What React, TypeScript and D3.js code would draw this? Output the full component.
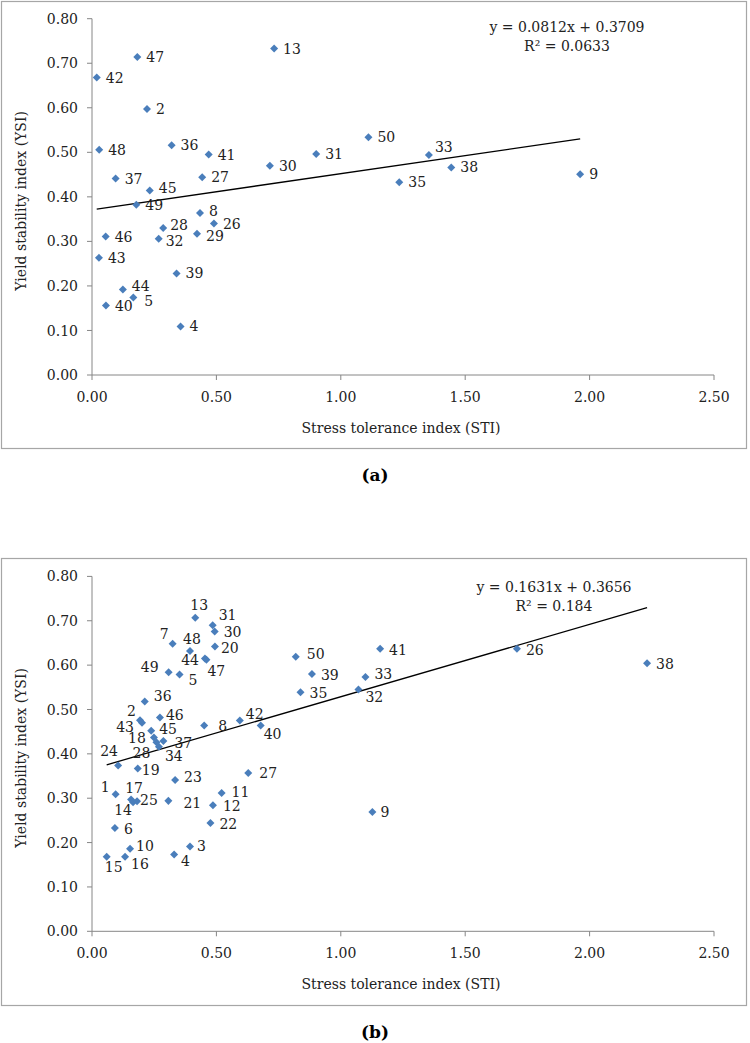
import React from 'react';
import * as d3 from 'd3';

// ---------- data ----------
const yTicks = [0, 0.1, 0.2, 0.3, 0.4, 0.5, 0.6, 0.7, 0.8];
const xTicks = [0, 0.5, 1.0, 1.5, 2.0, 2.5];

// Panel (a)
const idsA = [2, 4, 5, 8, 9, 13, 26, 27, 28, 29, 30, 31, 32, 33, 35, 36, 37, 38, 39, 40, 41, 42, 43, 44, 45, 46, 47, 48, 49, 50];
const stiA = [0.221, 0.356, 0.166, 0.434, 1.962, 0.732, 0.490, 0.443, 0.286, 0.422, 0.715, 0.901, 0.268, 1.354, 1.235, 0.320, 0.095, 1.444, 0.340, 0.056, 0.469, 0.019, 0.028, 0.124, 0.232, 0.055, 0.182, 0.029, 0.178, 1.111];
const ysiA = [0.597, 0.109, 0.174, 0.364, 0.451, 0.733, 0.340, 0.444, 0.330, 0.317, 0.470, 0.496, 0.306, 0.494, 0.433, 0.516, 0.441, 0.466, 0.228, 0.156, 0.495, 0.668, 0.263, 0.192, 0.414, 0.311, 0.714, 0.506, 0.382, 0.534];
const slopeA = 0.0812;
const interceptA = 0.3709;
const r2A = '0.0633';

// Panel (b)
const idsB = [1, 2, 3, 4, 5, 6, 7, 8, 9, 10, 11, 12, 13, 14, 15, 16, 17, 18, 19, 20, 21, 22, 23, 24, 25, 26, 27, 28, 30, 31, 32, 33, 34, 35, 36, 37, 38, 39, 40, 41, 42, 43, 44, 45, 46, 47, 48, 49, 50];
const stiB = [0.095, 0.193, 0.394, 0.330, 0.352, 0.092, 0.324, 0.451, 1.127, 0.153, 0.521, 0.486, 0.415, 0.165, 0.059, 0.133, 0.157, 0.249, 0.184, 0.494, 0.307, 0.476, 0.334, 0.105, 0.181, 1.708, 0.628, 0.259, 0.493, 0.485, 1.071, 1.099, 0.269, 0.838, 0.212, 0.287, 2.231, 0.884, 0.678, 1.158, 0.594, 0.201, 0.454, 0.238, 0.273, 0.460, 0.394, 0.308, 0.819];
const ysiB = [0.309, 0.476, 0.191, 0.173, 0.579, 0.233, 0.648, 0.464, 0.269, 0.186, 0.312, 0.284, 0.707, 0.291, 0.168, 0.168, 0.297, 0.437, 0.367, 0.642, 0.294, 0.244, 0.341, 0.374, 0.293, 0.637, 0.357, 0.426, 0.676, 0.690, 0.545, 0.573, 0.416, 0.539, 0.518, 0.429, 0.604, 0.580, 0.464, 0.637, 0.475, 0.470, 0.615, 0.452, 0.482, 0.612, 0.632, 0.584, 0.619];
const slopeB = 0.1631;
const interceptB = 0.3656;
const r2B = '0.184';

// ---------- label placement (layout only) ----------
type Place = [number, number, 'start' | 'middle' | 'end'];
const placeA: Record<number, Place> = {
  33: [6, -8, 'start'], 44: [9, -4, 'start'], 28: [7, -3, 'start'], 45: [9, -3, 'start'],
  8: [9, -2, 'start'], 29: [9, 2, 'start'], 32: [7, 2, 'start'], 5: [11, 3, 'start'],
};
const placeB: Record<number, Place> = {
  13: [4, -13, 'middle'], 31: [6, -10, 'start'], 30: [9, 1, 'start'], 7: [-4, -10, 'end'],
  48: [2, -12, 'middle'], 20: [6, 1, 'start'], 44: [-6, 1, 'end'], 47: [1, 11, 'start'],
  49: [-10, -5, 'end'], 5: [9, 6, 'start'], 36: [9, -6, 'start'], 2: [-4, -9, 'end'],
  43: [-8, 4, 'end'], 46: [6, -3, 'start'], 45: [8, -2, 'start'], 18: [-8, 1, 'end'],
  37: [11, 2, 'start'], 28: [-6, 11, 'end'], 34: [6, 9, 'start'], 8: [14, 1, 'start'],
  42: [6, -7, 'start'], 40: [3, 9, 'start'], 24: [-9, -14, 'middle'], 19: [4, 1, 'start'],
  23: [9, -3, 'start'], 27: [11, 0, 'start'], 1: [-6, -7, 'end'], 17: [3, -12, 'middle'],
  14: [-10, 8, 'middle'], 25: [3, -1, 'start'], 21: [15, 2, 'start'], 11: [10, -1, 'start'],
  12: [10, 1, 'start'], 22: [9, 1, 'start'], 6: [9, 1, 'start'], 10: [6, -3, 'start'],
  3: [7, -1, 'start'], 4: [7, 6, 'start'], 15: [7, 10, 'middle'], 16: [6, 7, 'start'],
  50: [11, -3, 'start'], 39: [9, 1, 'start'], 35: [9, 1, 'start'], 41: [9, 1, 'start'],
  33: [9, -3, 'start'], 32: [7, 7, 'start'], 26: [9, 1, 'start'], 38: [9, 1, 'start'], 9: [8, 0, 'start'],
};

const FONT = '"DejaVu Serif", serif';
const AXIS = '#868686';
const BLUE = '#4A7EBB';

type PanelProps = {
  top: number;
  ids: number[];
  xs: number[];
  ys: number[];
  slope: number;
  intercept: number;
  r2: string;
  eqX: number;
  eqY: number;
  place: Record<number, Place>;
  caption: string;
  plotTop: number;
  plotBottom: number;
};

function Panel({ top, ids, xs, ys, slope, intercept, r2, eqX, eqY, place, caption, plotTop, plotBottom }: PanelProps) {
  const x = d3.scaleLinear().domain([0, 2.5]).range([92, 714]);
  const y = d3.scaleLinear().domain([0, 0.8]).range([plotBottom, plotTop]);
  const fmt = d3.format('.2f');
  const diamond = d3.symbol().type(d3.symbolSquare).size(32)() as string;
  const xMin = d3.min(xs) as number;
  const xMax = d3.max(xs) as number;
  const trend = d3.line<number>().x((d) => x(d)).y((d) => y(slope * d + intercept))([xMin, xMax]) as string;
  const pts = ids.map((id, i) => ({ id, sx: x(xs[i]), sy: y(ys[i]) }));
  const mid = (plotTop + plotBottom) / 2;

  return (
    <g transform={`translate(0,${top})`}>
      <rect x={1.5} y={1.5} width={745} height={447} fill="#fff" stroke="#a6a6a6" strokeWidth={1.2} />
      {/* axes */}
      <line x1={92} x2={92} y1={plotTop} y2={plotBottom} stroke={AXIS} strokeWidth={1} />
      <line x1={92} x2={714} y1={plotBottom} y2={plotBottom} stroke={AXIS} strokeWidth={1} />
      {yTicks.map((t) => (
        <g key={'y' + t}>
          <line x1={87} x2={92} y1={y(t)} y2={y(t)} stroke={AXIS} />
          <text x={78} y={y(t)} dy="0.36em" textAnchor="end" fontFamily={FONT} fontSize={14} fill="#222">
            {fmt(t)}
          </text>
        </g>
      ))}
      {xTicks.map((t) => (
        <g key={'x' + t}>
          <line x1={x(t)} x2={x(t)} y1={plotBottom} y2={plotBottom + 5} stroke={AXIS} />
          <text x={x(t)} y={plotBottom + 22} dy="0.36em" textAnchor="middle" fontFamily={FONT} fontSize={14} fill="#222">
            {fmt(t)}
          </text>
        </g>
      ))}
      <text x={401} y={plotBottom + 53} dy="0.36em" textAnchor="middle" fontFamily={FONT} fontSize={14} fill="#222">
        Stress tolerance index (STI)
      </text>
      <text
        transform={`translate(21,${mid + 4}) rotate(-90)`}
        dy="0.36em"
        textAnchor="middle"
        fontFamily={FONT}
        fontSize={14}
        fill="#222"
      >
        Yield stability index (YSI)
      </text>
      {/* trendline */}
      <path d={trend} fill="none" stroke="#000" strokeWidth={1.3} />
      {/* points */}
      {pts.map((p) => (
        <path key={'p' + p.id} d={diamond} transform={`translate(${p.sx},${p.sy}) rotate(45)`} fill={BLUE} />
      ))}
      {pts.map((p) => {
        const pl = place[p.id] || [9, 0, 'start'];
        return (
          <text
            key={'l' + p.id}
            x={p.sx + pl[0]}
            y={p.sy + pl[1]}
            dy="0.36em"
            textAnchor={pl[2]}
            fontFamily={FONT}
            fontSize={14}
            fill="#222"
          >
            {p.id}
          </text>
        );
      })}
      {/* equation */}
      <text x={eqX} y={eqY} dy="0.36em" textAnchor="middle" fontFamily={FONT} fontSize={14} fill="#222">
        {`y = ${slope}x + ${intercept}`}
      </text>
      <text x={eqX} y={eqY + 19} dy="0.36em" textAnchor="middle" fontFamily={FONT} fontSize={14} fill="#222">
        {`R² = ${r2}`}
      </text>
      <text x={375} y={475} dy="0.36em" textAnchor="middle" fontFamily={FONT} fontSize={17} fontWeight="bold" fill="#000">
        {caption}
      </text>
    </g>
  );
}

export default function App() {
  return (
    <svg
      width={750}
      height={1043}
      style={{ position: 'absolute', left: 0, top: 0, background: '#fff' }}
    >
      <rect width={750} height={1043} fill="#fff" />
      <Panel
        top={0}
        ids={idsA}
        xs={stiA}
        ys={ysiA}
        slope={slopeA}
        intercept={interceptA}
        r2={r2A}
        eqX={567}
        eqY={27}
        place={placeA}
        caption="(a)"
        plotTop={18.7}
        plotBottom={375}
      />
      <Panel
        top={557}
        ids={idsB}
        xs={stiB}
        ys={ysiB}
        slope={slopeB}
        intercept={interceptB}
        r2={r2B}
        eqX={554}
        eqY={30}
        place={placeB}
        caption="(b)"
        plotTop={19.4}
        plotBottom={374.3}
      />
    </svg>
  );
}
